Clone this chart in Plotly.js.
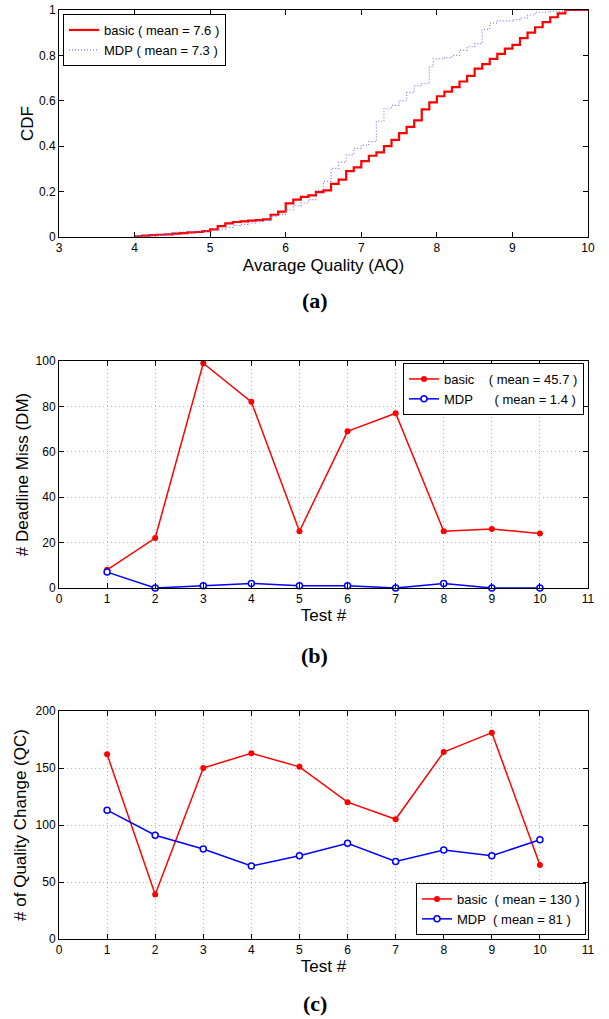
<!DOCTYPE html>
<html>
<head>
<meta charset="utf-8">
<script src="https://cdn.plot.ly/plotly-3.0.1.min.js"></script>
<style>html,body{margin:0;padding:0;background:#fff;}#chart{width:609px;height:1019px;}</style>
</head>
<body>
<div id="chart"></div>
<script>
// ---- Panel (a): CDF of Average Quality ----
const cdfBasicX = [4.0,4.1,4.2,4.3,4.4,4.5,4.6,4.7,4.8,4.9,5.0,5.1,5.2,5.3,5.4,5.5,5.6,5.7,5.8,5.9,6.0,6.1,6.2,6.3,6.4,6.5,6.6,6.7,6.8,6.9,7.0,7.1,7.2,7.3,7.4,7.5,7.6,7.7,7.8,7.9,8.0,8.1,8.2,8.3,8.4,8.5,8.6,8.7,8.8,8.9,9.0,9.1,9.2,9.3,9.4,9.5,9.6,9.7,10.0];
const cdfBasicY = [0.003,0.006,0.008,0.010,0.012,0.015,0.017,0.020,0.022,0.026,0.034,0.048,0.060,0.066,0.069,0.072,0.074,0.078,0.098,0.112,0.148,0.165,0.177,0.183,0.198,0.205,0.234,0.253,0.290,0.307,0.334,0.358,0.373,0.400,0.428,0.458,0.485,0.514,0.562,0.593,0.620,0.640,0.660,0.685,0.710,0.742,0.762,0.785,0.807,0.830,0.846,0.876,0.900,0.924,0.947,0.968,0.985,1.0,1.0];
const cdfMdpX = [3.95,4.0,4.2,4.4,4.5,4.6,4.8,5.0,5.1,5.2,5.3,5.4,5.5,5.6,5.7,5.8,5.9,6.0,6.1,6.2,6.3,6.4,6.5,6.6,6.7,6.8,6.9,7.0,7.1,7.2,7.3,7.4,7.5,7.6,7.7,7.8,7.9,7.95,8.1,8.2,8.3,8.4,8.5,8.6,8.7,8.8,9.0,9.1,9.2,9.3,9.5,9.7,10.0];
const cdfMdpY = [0.0,0.004,0.008,0.015,0.020,0.022,0.026,0.030,0.035,0.042,0.050,0.056,0.062,0.068,0.072,0.090,0.100,0.120,0.138,0.150,0.165,0.205,0.245,0.302,0.330,0.362,0.390,0.405,0.420,0.510,0.565,0.580,0.600,0.636,0.667,0.675,0.750,0.785,0.790,0.800,0.822,0.838,0.852,0.915,0.942,0.952,0.958,0.965,0.978,0.990,0.995,1.0,1.0];

// ---- Panels (b) and (c) ----
const testIds = [1,2,3,4,5,6,7,8,9,10];
const dmBasic = [8,22,99,82,25,69,77,25,26,24];
const dmMdp = [7,0,1,2,1,1,0,2,0,0];
const qcBasic = [162,39,150,163,151,120,105,164,181,65];
const qcMdp = [113,91,79,64,73,84,68,78,73,87];

const nb = s => s.replace(/ /g, '\u00a0');
const legA = [nb('basic ( mean = 7.6 )'), nb('MDP ( mean = 7.3 )')];
const legB = [nb('basic    ( mean = 45.7 )'), nb('MDP      ( mean = 1.4 )')];
const legC = [nb('basic  ( mean = 130 )'), nb('MDP  ( mean = 81 )')];

const RED = '#ff0000', BLUE = '#0000ff', LBLUE = '#7b7bff';
const FONT = "'Liberation Sans', Arial, Helvetica, sans-serif";
const SERIF = "'Liberation Serif', 'Times New Roman', Times, serif";

const traces = [
  {x: cdfBasicX, y: cdfBasicY, type:'scatter', mode:'lines', line:{shape:'hv', color:RED, width:2.2}, name: legA[0], xaxis:'x', yaxis:'y', legend:'legend'},
  {x: cdfMdpX, y: cdfMdpY, type:'scatter', mode:'lines', line:{shape:'hv', color:LBLUE, width:1.2, dash:'1px,2px'}, name: legA[1], xaxis:'x', yaxis:'y', legend:'legend'},
  {x: testIds, y: dmBasic, type:'scatter', mode:'lines+markers', line:{color:RED, width:1.5}, marker:{color:RED, size:6, symbol:'circle'}, name: legB[0], xaxis:'x2', yaxis:'y2', legend:'legend2', cliponaxis:false},
  {x: testIds, y: dmMdp, type:'scatter', mode:'lines+markers', line:{color:BLUE, width:1.5}, marker:{color:'#ffffff', size:6, symbol:'circle', line:{color:BLUE, width:1.5}}, name: legB[1], xaxis:'x2', yaxis:'y2', legend:'legend2', cliponaxis:false},
  {x: testIds, y: qcBasic, type:'scatter', mode:'lines+markers', line:{color:RED, width:1.5}, marker:{color:RED, size:6, symbol:'circle'}, name: legC[0], xaxis:'x3', yaxis:'y3', legend:'legend3', cliponaxis:false},
  {x: testIds, y: qcMdp, type:'scatter', mode:'lines+markers', line:{color:BLUE, width:1.5}, marker:{color:'#ffffff', size:6, symbol:'circle', line:{color:BLUE, width:1.5}}, name: legC[1], xaxis:'x3', yaxis:'y3', legend:'legend3', cliponaxis:false}
];

const W = 609, H = 1019;
const xDom = [59/W, 588/W];
const yDomA = [1-237/H, 1-10/H];
const yDomB = [1-588/H, 1-361/H];
const yDomC = [1-939/H, 1-711/H];

function ax(extra) {
  return Object.assign({
    ticks:'inside', ticklen:5, tickcolor:'#000', tickwidth:1,
    showline:true, linecolor:'#000', linewidth:1, mirror:'ticks',
    zeroline:false, showgrid:false, fixedrange:true,
    tickfont:{family:FONT, size:12, color:'#000'}
  }, extra);
}
const tf = {family:FONT, size:17, color:'#000'};
const gridOpts = {showgrid:true, gridcolor:'#b4b4b4', griddash:'1px,3px', gridwidth:1};

const legendBase = {bgcolor:'#ffffff', bordercolor:'#000', borderwidth:1, font:{family:FONT, size:13, color:'#000'}, tracegroupgap:0, itemwidth:30};

const layout = {
  width: W, height: H,
  margin:{l:0, r:0, t:0, b:0},
  paper_bgcolor:'#fff', plot_bgcolor:'#fff',
  showlegend:true,
  xaxis: ax({domain:xDom, anchor:'y', range:[3,10], dtick:1, tick0:3, title:{text:'Avarage Quality (AQ)', standoff:4, font:tf}}),
  yaxis: ax({domain:yDomA, anchor:'x', range:[0,1], dtick:0.2, tick0:0, title:{text:'CDF', standoff:0, font:tf}}),
  xaxis2: ax(Object.assign({domain:xDom, anchor:'y2', range:[0,11], dtick:1, tick0:0, title:{text:'Test #', standoff:2, font:tf}}, gridOpts)),
  yaxis2: ax(Object.assign({domain:yDomB, anchor:'x2', range:[0,100], dtick:20, tick0:0, title:{text:'# Deadline Miss (DM)', standoff:2, font:tf}}, gridOpts)),
  xaxis3: ax(Object.assign({domain:xDom, anchor:'y3', range:[0,11], dtick:1, tick0:0, title:{text:'Test #', standoff:2, font:tf}}, gridOpts)),
  yaxis3: ax(Object.assign({domain:yDomC, anchor:'x3', range:[0,200], dtick:50, tick0:0, title:{text:'# of Quality Change (QC)', standoff:4, font:tf}}, gridOpts)),
  legend: Object.assign({}, legendBase, {x:63/W, y:1-14/H, xanchor:'left', yanchor:'top'}),
  legend2: Object.assign({}, legendBase, {x:584/W, y:1-363/H, xanchor:'right', yanchor:'top'}),
  legend3: Object.assign({}, legendBase, {x:586/W, y:1-935/H, xanchor:'right', yanchor:'bottom'}),
  annotations: [
    {text:'<b>(a)</b>', xref:'paper', yref:'paper', x:0.5165, y:1-300/H, xanchor:'center', yanchor:'middle', showarrow:false, font:{family:SERIF, size:22, color:'#000'}},
    {text:'<b>(b)</b>', xref:'paper', yref:'paper', x:0.5165, y:1-655/H, xanchor:'center', yanchor:'middle', showarrow:false, font:{family:SERIF, size:22, color:'#000'}},
    {text:'<b>(c)</b>', xref:'paper', yref:'paper', x:0.5165, y:1-1003/H, xanchor:'center', yanchor:'middle', showarrow:false, font:{family:SERIF, size:22, color:'#000'}}
  ]
};

Plotly.newPlot('chart', traces, layout, {displayModeBar:false, staticPlot:true});
</script>
</body>
</html>
